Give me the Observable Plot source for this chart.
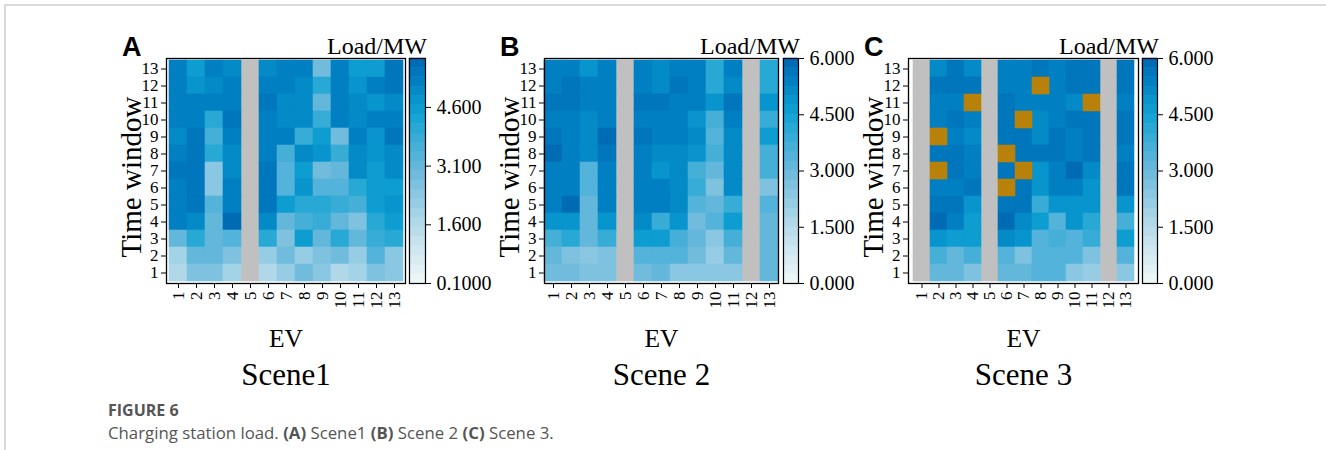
<!DOCTYPE html>
<html><head><meta charset="utf-8">
<script src="https://cdn.jsdelivr.net/npm/d3@7"></script>
<script src="https://cdn.jsdelivr.net/npm/@observablehq/plot@0.6"></script>
<style>
body{margin:0;background:#fff;}
#fig{position:relative;width:1326px;height:450px;overflow:hidden;background:#fff;}
#fig > *{position:absolute;}
.frameline{left:4px;top:4px;width:1340px;height:470px;border-top:2px solid #dadada;border-left:2px solid #dadada;}
.letter{font-family:"Liberation Sans",Arial,sans-serif;font-weight:bold;font-size:27px;line-height:27px;color:#000;}
.unit{font-family:"Liberation Serif",serif;font-size:24px;line-height:24px;color:#000;white-space:nowrap;text-align:right;}
.cap{font-family:"Open Sans",sans-serif;color:#555;font-size:16.8px;white-space:nowrap;}
</style></head>
<body><div id="fig"><div class="frameline"></div></div>
<script>
const evs = [1,2,3,4,5,6,7,8,9,10,11,12,13];
const timeWindows = [1,2,3,4,5,6,7,8,9,10,11,12,13];

// rows listed from time window 13 (top) down to time window 1; columns EV 1..13; null = no data (grey)
const sceneA = [
  [5.15,4.45,5.3,4.95,null,4.95,5.3,5.3,2.85,5.15,4.6,4.6,5.4],
  [5.3,4.85,4.95,5.15,null,5.15,5.15,5.05,4.15,5.3,4.7,5.15,5.45],
  [5.15,5.3,5.3,5.15,null,5.4,4.95,4.95,3.05,5.15,5.05,4.85,4.95],
  [5.3,5.3,4.15,5.4,null,5.15,4.95,4.95,3.75,5.15,5.05,5.15,5.15],
  [4.95,5.4,3.6,5.3,null,5.15,5.15,3.75,4.6,2.9,5.15,4.85,5.4],
  [5.3,5.4,4.0,4.95,null,5.3,3.6,4.95,4.7,3.75,4.95,4.75,5.05],
  [5.4,5.6,2.3,4.95,null,5.6,3.3,4.5,2.85,3.05,5.05,4.6,4.95],
  [5.3,5.6,2.35,5.15,null,5.4,3.4,4.7,3.4,3.4,4.15,4.45,4.6],
  [5.3,5.6,3.3,5.15,null,5.6,4.45,4.15,4.15,3.75,3.5,4.45,4.85],
  [5.3,4.95,3.1,5.65,null,5.05,3.1,3.5,3.9,3.1,2.5,4.15,4.5],
  [3.2,4.15,3.05,3.3,null,4.15,2.5,4.45,3.2,4.15,3.2,3.75,4.15],
  [1.9,3.05,3.05,2.5,null,2.2,2.75,2.05,2.5,2.75,2.05,3.3,2.35],
  [1.75,2.5,2.5,1.9,null,1.75,2.2,2.75,2.35,1.75,1.9,2.5,2.35]
];
const sceneB = [
  [5.45,5.45,4.9,5.45,null,5.45,5.05,5.45,5.25,4.0,5.45,null,4.0],
  [5.45,5.55,5.25,5.25,null,5.45,5.05,5.55,5.45,4.0,5.05,null,4.0],
  [5.55,5.55,5.45,5.45,null,5.65,5.55,5.45,5.45,4.9,5.65,null,4.75],
  [5.45,5.45,5.05,5.25,null,5.25,5.25,5.25,4.9,3.7,5.45,null,3.85],
  [5.55,5.45,5.05,5.8,null,5.65,5.25,5.45,5.05,3.4,5.05,null,4.5],
  [5.8,5.25,5.05,5.55,null,5.45,5.05,5.2,4.9,3.7,5.2,null,3.7],
  [5.45,5.45,3.3,5.25,null,5.45,4.9,5.05,3.55,3.0,5.05,null,3.7],
  [5.45,5.25,3.3,5.45,null,5.45,5.45,5.05,3.85,2.7,5.05,null,2.7],
  [5.45,5.8,3.15,5.45,null,5.45,5.25,5.05,3.3,3.0,3.85,null,3.4],
  [4.75,4.9,3.15,4.9,null,5.05,3.85,4.75,2.85,3.3,4.5,null,3.0],
  [3.55,4.0,3.0,3.85,null,4.5,4.5,3.7,3.15,2.4,3.55,null,3.0],
  [3.0,2.7,2.4,2.7,null,3.3,3.3,3.3,2.85,2.2,3.0,null,3.0],
  [2.85,2.85,2.55,2.55,null,2.85,3.0,2.4,2.4,2.4,2.4,null,3.15]
];
const sceneC = [
  [null,5.05,5.55,5.2,null,5.25,5.25,5.55,5.45,5.65,5.65,null,5.65],
  [null,5.65,5.65,5.65,null,5.25,5.45,null,5.45,5.65,5.65,null,5.65],
  [null,5.45,5.45,null,null,5.65,5.25,5.25,5.25,5.05,null,null,5.45],
  [null,5.45,5.65,5.25,null,5.65,null,5.05,5.45,5.65,5.65,null,5.65],
  [null,null,5.25,5.05,null,5.65,5.65,5.05,5.65,5.45,5.65,null,5.65],
  [null,5.65,5.65,5.25,null,null,5.65,5.55,5.65,5.45,5.65,null,5.45],
  [null,null,5.65,5.25,null,5.55,null,4.9,5.45,5.8,5.05,null,5.65],
  [null,5.45,5.45,5.55,null,null,5.65,4.9,5.25,5.45,4.75,null,5.55],
  [null,5.65,5.65,4.75,null,5.65,5.65,3.85,4.75,4.9,4.9,null,4.9],
  [null,5.8,5.45,4.5,null,5.8,5.05,4.5,3.3,4.75,4.0,null,3.55],
  [null,4.75,4.5,4.5,null,5.05,4.75,3.3,3.7,3.3,3.85,null,4.5],
  [null,3.7,3.0,3.7,null,3.3,2.7,3.3,3.3,3.3,2.7,null,3.3],
  [null,3.0,3.0,2.7,null,3.0,3.0,3.3,3.3,2.4,2.1,null,2.4]
];
// overloaded cells in scene 3, as [EV, time window]
const sceneCOver = [[8,12],[4,11],[11,11],[7,10],[2,9],[6,8],[2,7],[7,7],[6,6]];

const ticksA = [0.1,1.6,3.1,4.6];
const tickLabelsA = ["0.1000","1.600","3.100","4.600"];
const ticksBC = [0,1.5,3,4.5,6];
const tickLabelsBC = ["0.000","1.500","3.000","4.500","6.000"];
const domainA = [0.1,5.85];
const domainBC = [0,6];
const sceneTitles = ["Scene1","Scene 2","Scene 3"];
const letters = ["A","B","C"];

const cmapStops = ["#f0f8f8","#b6dbea","#6bb9dc","#10a2d3","#0085c5","#0066b2"];
const cmapPos = [0,0.25,0.5,0.75,0.875,1];
const nBands = 24;
function cmap(t){
  for(let i=1;i<cmapPos.length;i++){
    if(t<=cmapPos[i]){const u=(t-cmapPos[i-1])/(cmapPos[i]-cmapPos[i-1]);return d3.interpolateRgb(cmapStops[i-1],cmapStops[i])(u);}
  }
  return cmapStops[cmapStops.length-1];
}
function colorScale(dom){
  const [lo,hi]=dom;
  const thr=d3.range(1,nBands).map(i=>lo+i*(hi-lo)/nBands);
  const rng=d3.range(nBands).map(i=>cmap((i+0.5)/nBands));
  return {type:"threshold",domain:thr,range:rng};
}

const fig = document.getElementById("fig");
function place(el,left,top){el.style.left=left+"px";el.style.top=top+"px";fig.appendChild(el);}

const panels = [
  {m:sceneA, over:[], dom:domainA, ticks:ticksA, labels:tickLabelsA, fx0:166, fx1:405, cb0:409, cb1:425, letterX:122},
  {m:sceneB, over:[], dom:domainBC, ticks:ticksBC, labels:tickLabelsBC, fx0:544, fx1:778, cb0:783, cb1:798, letterX:500},
  {m:sceneC, over:sceneCOver, dom:domainBC, ticks:ticksBC, labels:tickLabelsBC, fx0:908, fx1:1138, cb0:1142, cb1:1157, letterX:864}
];
const fy0=58, fy1=283, svgTop=40;

panels.forEach((p,k)=>{
  const cells = p.m.flatMap((row,i)=>row.map((v,j)=>({ev:evs[j], win:timeWindows[12-i], v})));
  const valued = cells.filter(d=>d.v!=null);
  const empty = cells.filter(d=>d.v==null);
  const over = p.over.map(([e,w])=>({ev:e,win:w}));
  const svgLeft = p.fx0-72, W = (p.fx1-p.fx0)+72+30, H = 370;
  const cs = colorScale(p.dom);
  const heat = Plot.plot({
    width:W, height:H,
    marginLeft:72, marginRight:30, marginTop:fy0-svgTop, marginBottom:H-(fy1-svgTop),
    style:{fontFamily:"Liberation Serif, serif", fontSize:"17px", color:"#000", background:"none", overflow:"visible"},
    x:{type:"band", domain:evs, padding:0, label:null, tickRotate:-90, tickSize:5, tickPadding:3},
    y:{type:"band", domain:timeWindows.slice().reverse(), padding:0, label:null, tickSize:5, tickPadding:3},
    color:cs,
    marks:[
      Plot.cell(empty,{x:"ev", y:"win", fill:"#c0c0c0", stroke:"#c0c0c0", strokeWidth:0.6}),
      Plot.cell(valued,{x:"ev", y:"win", fill:"v", stroke:"v", strokeWidth:0.6}),
      Plot.cell(over,{x:"ev", y:"win", fill:"#b8820a", stroke:"#b8820a", strokeWidth:0.6}),
      Plot.frame({stroke:"#000", strokeWidth:1.3}),
      Plot.text(["Time window"],{text:d=>d, frameAnchor:"left", textAnchor:"middle", lineAnchor:"middle", dx:-35, dy:6, rotate:-90, fontSize:29}),
      Plot.text(["EV"],{text:d=>d, frameAnchor:"bottom", textAnchor:"middle", lineAnchor:"middle", dy:55, fontSize:25.5}),
      Plot.text([sceneTitles[k]],{text:d=>d, frameAnchor:"bottom", textAnchor:"middle", lineAnchor:"middle", dy:92, fontSize:31})
    ]
  });
  place(heat, svgLeft, svgTop);

  const [lo,hi]=p.dom;
  const bands = d3.range(nBands).map(i=>({a:lo+i*(hi-lo)/nBands, b:lo+(i+1)*(hi-lo)/nBands, m:lo+(i+0.5)*(hi-lo)/nBands}));
  const cw = p.cb1-p.cb0;
  const cb = Plot.plot({
    width:2+cw+80, height:(fy1-svgTop)+30,
    marginLeft:2, marginRight:80, marginTop:fy0-svgTop, marginBottom:30,
    style:{fontFamily:"Liberation Serif, serif", fontSize:"20px", color:"#000", background:"none", overflow:"visible"},
    x:{domain:[0,1], axis:null},
    y:{domain:p.dom, axis:"right", ticks:p.ticks, tickFormat:v=>p.labels[p.ticks.findIndex(t=>Math.abs(t-v)<1e-9)], tickSize:5, tickPadding:6, label:null},
    color:cs,
    marks:[
      Plot.rect(bands,{x1:()=>0, x2:()=>1, y1:"a", y2:"b", fill:"m", stroke:"m", strokeWidth:0.5}),
      Plot.frame({stroke:"#000", strokeWidth:1.2})
    ]
  });
  place(cb, p.cb0-2, svgTop);

  const lt = document.createElement("div"); lt.className="letter"; lt.textContent=letters[k];
  place(lt, p.letterX, 34);
  const u = document.createElement("div"); u.className="unit"; u.textContent="Load/MW";
  u.style.width="200px";
  place(u, p.cb1+2-200, 34);
});

const c1 = document.createElement("div"); c1.className="cap"; c1.style.fontWeight="700"; c1.style.fontSize="16px";
c1.textContent="FIGURE 6"; place(c1,108,399);
const c2 = document.createElement("div"); c2.className="cap";
c2.innerHTML='Charging station load. <b>(A)</b> Scene1 <b>(B)</b> Scene 2 <b>(C)</b> Scene 3.';
place(c2,108,421);
</script>
</body></html>
